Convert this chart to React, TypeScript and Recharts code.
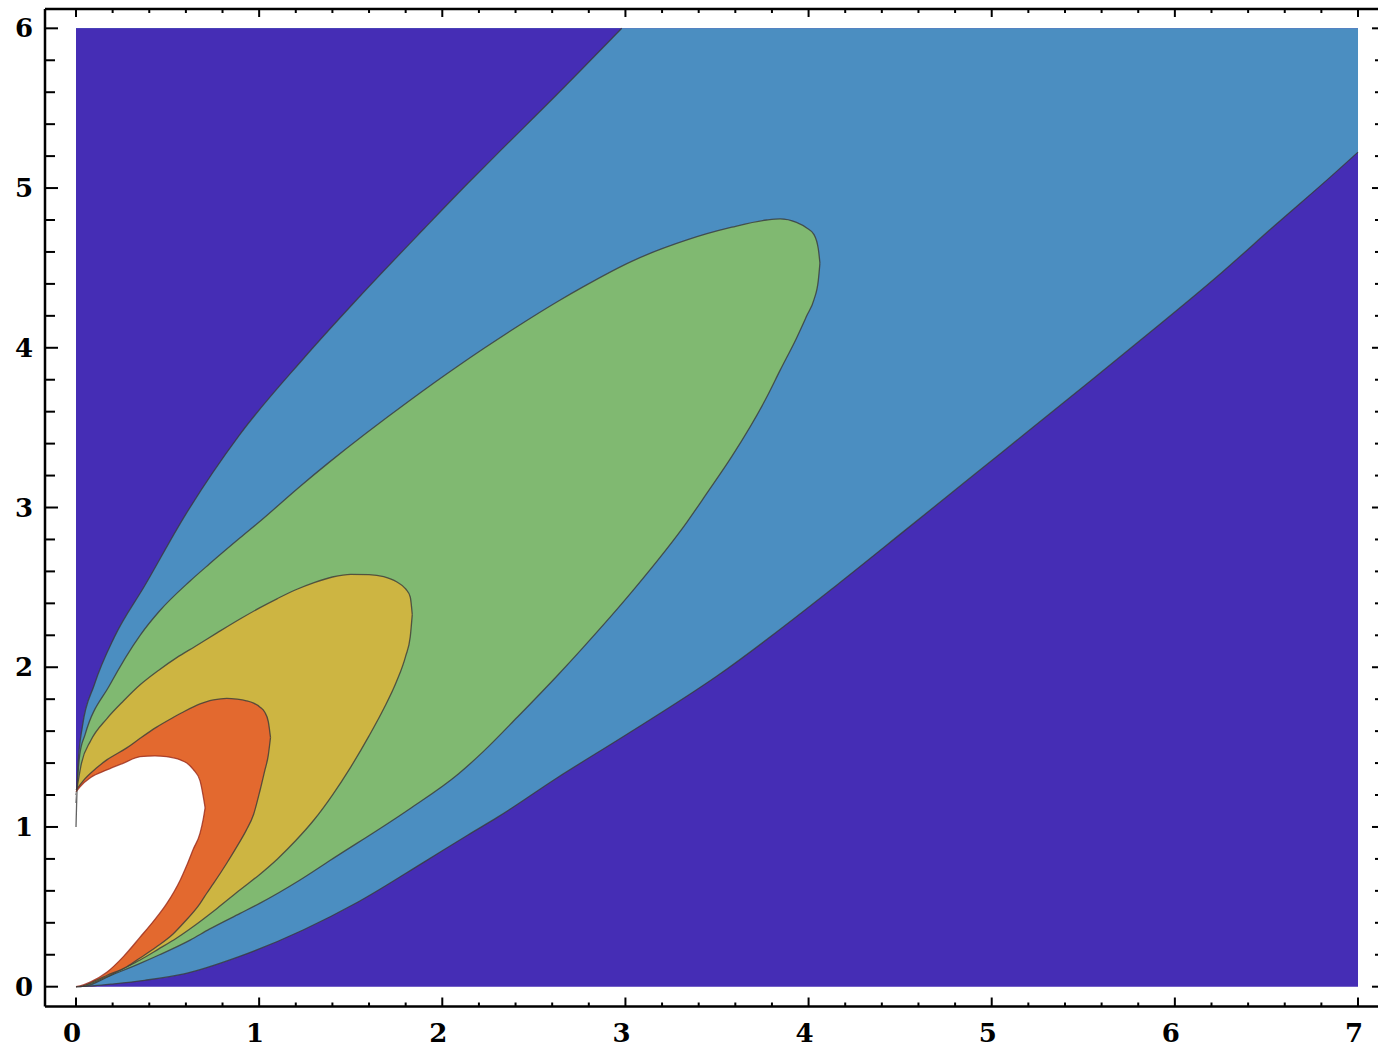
import { ComposedChart, Area, Line, XAxis, YAxis } from 'recharts';

// axis ticks (major = labelled, the rest are minor 0.2 steps)
const xTicks = [
  0, 0.2, 0.4, 0.6, 0.8, 1, 1.2, 1.4, 1.6, 1.8, 2, 2.2, 2.4, 2.6, 2.8, 3, 3.2, 3.4,
  3.6, 3.8, 4, 4.2, 4.4, 4.6, 4.8, 5, 5.2, 5.4, 5.6, 5.8, 6, 6.2, 6.4, 6.6, 6.8, 7,
];
const yTicks = [
  0, 0.2, 0.4, 0.6, 0.8, 1, 1.2, 1.4, 1.6, 1.8, 2, 2.2, 2.4, 2.6, 2.8, 3, 3.2, 3.4,
  3.6, 3.8, 4, 4.2, 4.4, 4.6, 4.8, 5, 5.2, 5.4, 5.6, 5.8, 6,
];
const xDomain = [-0.1693, 7.1474];
const yDomain = [-0.124, 6.121];
const TOP = 6;

// background level (whole plot range)
const bgX = [0, 7];
const bgLow = [0, 0];
const bgHigh = [6, 6];

// light blue band: lower (right) edge, and upper (left) edge until it leaves the plot at y = 6
const blueLowX = [0, 0.01, 0.035, 0.1, 0.21, 0.375, 0.59, 0.89, 1.24, 1.54, 1.9, 2.14, 2.3, 2.63, 2.98, 3.5, 4.16, 4.53, 5.05, 5.51, 5.89, 6.22, 6.55, 6.85, 7.0];
const blueLow = [0, 0, 0.002, 0.006, 0.018, 0.04, 0.08, 0.188, 0.355, 0.53, 0.78, 0.95, 1.06, 1.31, 1.56, 1.945, 2.52, 2.86, 3.34, 3.765, 4.12, 4.435, 4.77, 5.07, 5.225];
const blueUpX = [0, 0.01, 0.035, 0.1, 0.21, 0.375, 0.59, 0.89, 1.24, 1.54, 1.9, 2.14, 2.3, 2.63, 2.98];
const blueUp = [1.0, 1.37, 1.63, 1.89, 2.19, 2.51, 2.94, 3.45, 3.93, 4.31, 4.745, 5.03, 5.214, 5.59, 6.0];

// green level
const greenX = [0, 0.02, 0.05, 0.185, 0.35, 0.456, 0.623, 0.728, 0.896, 1.0, 1.223, 1.38, 1.815, 2.086, 2.222, 2.412, 2.63, 2.766, 3.037, 3.336, 3.445, 3.581, 3.771, 3.845, 3.934, 3.99, 4.029, 4.053, 4.062];
const greenLow = [0, 0, 0.003, 0.068, 0.146, 0.2, 0.292, 0.36, 0.459, 0.52, 0.668, 0.785, 1.108, 1.33, 1.47, 1.69, 1.95, 2.12, 2.475, 2.909, 3.09, 3.32, 3.69, 3.86, 4.06, 4.2, 4.3, 4.42, 4.53];
const greenHigh = [1.15, 1.45, 1.58, 1.89, 2.2, 2.352, 2.54, 2.646, 2.81, 2.909, 3.132, 3.281, 3.664, 3.886, 3.992, 4.135, 4.29, 4.38, 4.543, 4.675, 4.714, 4.755, 4.8, 4.807, 4.785, 4.75, 4.71, 4.62, 4.53];

// yellow level
const yellowX = [0, 0.03, 0.08, 0.17, 0.26, 0.35, 0.45, 0.55, 0.65, 0.77, 0.9, 1.0, 1.1, 1.2, 1.3, 1.4, 1.5, 1.6, 1.68, 1.75, 1.8, 1.825, 1.836];
const yellowLow = [0, 0.004, 0.02, 0.063, 0.115, 0.167, 0.235, 0.305, 0.385, 0.49, 0.61, 0.7, 0.8, 0.915, 1.045, 1.2, 1.375, 1.57, 1.74, 1.91, 2.07, 2.19, 2.33];
const yellowHigh = [1.2, 1.4, 1.54, 1.68, 1.79, 1.89, 1.98, 2.06, 2.13, 2.215, 2.305, 2.37, 2.43, 2.485, 2.53, 2.565, 2.582, 2.58, 2.567, 2.535, 2.49, 2.44, 2.33];

// orange level
const orangeX = [0, 0.04, 0.113, 0.168, 0.277, 0.35, 0.44, 0.53, 0.586, 0.677, 0.714, 0.75, 0.823, 0.88, 0.93, 0.97, 1.005, 1.03, 1.05, 1.062];
const orangeLow = [0, 0.01, 0.042, 0.07, 0.125, 0.18, 0.25, 0.33, 0.397, 0.52, 0.585, 0.645, 0.773, 0.88, 0.98, 1.08, 1.23, 1.35, 1.45, 1.56];
const orangeHigh = [1.23, 1.29, 1.37, 1.42, 1.495, 1.555, 1.625, 1.685, 1.72, 1.77, 1.785, 1.795, 1.805, 1.8, 1.79, 1.775, 1.75, 1.72, 1.66, 1.56];

// white (undefined) region near the origin
const whiteX = [0, 0.022, 0.08, 0.168, 0.26, 0.35, 0.43, 0.495, 0.57, 0.605, 0.64, 0.677, 0.695, 0.705];
const whiteLow = [0, 0.005, 0.03, 0.09, 0.19, 0.31, 0.42, 0.52, 0.67, 0.76, 0.86, 0.96, 1.05, 1.12];
const whiteHigh = [1.22, 1.252, 1.31, 1.357, 1.4, 1.44, 1.445, 1.44, 1.42, 1.4, 1.36, 1.29, 1.19, 1.12];

const band = (xs: number[], lo: number[], hi: number[]) =>
  xs.map((x, i) => ({ x, range: [lo[i], hi[i]] }));
const toTop = (xs: number[], lo: number[]) => xs.map((x, i) => ({ x, range: [lo[i], TOP] }));
const curve = (xs: number[], ys: number[]) => xs.map((x, i) => ({ x, y: ys[i] }));

const COLORS = {
  bg: '#452db5',
  blue: '#4b8ec1',
  green: '#80b971',
  yellow: '#cdb542',
  orange: '#e3692f',
};
const LINE = '#3a3a3a';
const FONT = '"DejaVu Serif", serif';

const isMajor = (v: number) => Math.abs(v - Math.round(v)) < 1e-6;

const BottomTick = (props: any) => {
  const { x, y, payload } = props;
  const major = isMajor(payload.value);
  return (
    <g>
      <line x1={x} x2={x} y1={y} y2={y - (major ? 9 : 4)} stroke="#000" strokeWidth={2} />
      {major && (
        <text x={x - 4} y={y + 35} textAnchor="middle" fontFamily={FONT} fontWeight="bold" fontSize={26} fill="#000">
          {Math.round(payload.value)}
        </text>
      )}
    </g>
  );
};

const TopTick = (props: any) => {
  const { x, y, payload } = props;
  const major = isMajor(payload.value);
  return <line x1={x} x2={x} y1={y} y2={y + (major ? 8 : 4)} stroke="#000" strokeWidth={2} />;
};

const LeftTick = (props: any) => {
  const { x, y, payload } = props;
  const major = isMajor(payload.value);
  return (
    <g>
      <line x1={x} x2={x + (major ? 13 : 10)} y1={y} y2={y} stroke="#000" strokeWidth={2} />
      {major && (
        <text x={x - 12} y={y + 9} textAnchor="end" fontFamily={FONT} fontWeight="bold" fontSize={26} fill="#000">
          {Math.round(payload.value)}
        </text>
      )}
    </g>
  );
};

const RightTick = (props: any) => {
  const { x, y, payload } = props;
  const major = isMajor(payload.value);
  return <line x1={x} x2={x - (major ? 13 : 10)} y1={y} y2={y} stroke="#000" strokeWidth={2} />;
};

export default function App() {
  const axisLine = { stroke: '#000', strokeWidth: 2.5 };
  const fillArea = (key: string, data: any[], fill: string, stroke = 'none') => (
    <Area
      key={key}
      xAxisId="b"
      yAxisId="l"
      data={data}
      dataKey="range"
      type={key === 'bg' ? 'linear' : 'monotone'}
      fill={fill}
      fillOpacity={1}
      stroke={stroke}
      strokeWidth={1.3}
      strokeOpacity={0.8}
      dot={false}
      activeDot={false}
      isAnimationActive={false}
    />
  );
  const edge = (key: string, data: any[]) => (
    <Line
      key={key}
      xAxisId="b"
      yAxisId="l"
      data={data}
      dataKey="y"
      type="monotone"
      stroke={LINE}
      strokeWidth={1.3}
      strokeOpacity={0.8}
      dot={false}
      activeDot={false}
      isAnimationActive={false}
    />
  );

  return (
    <div style={{ position: 'fixed', left: 0, top: 0, width: 1378, height: 1048, overflow: 'hidden', background: '#fff' }}>
      <ComposedChart width={1400} height={1048} margin={{ top: 4, right: 5, bottom: 1.5, left: 5 }}>
        <XAxis
          xAxisId="b"
          type="number"
          dataKey="x"
          orientation="bottom"
          domain={xDomain}
          allowDataOverflow
          ticks={xTicks}
          interval={0}
          height={40}
          tickSize={0}
          tickMargin={0}
          tickLine={false}
          axisLine={axisLine}
          tick={BottomTick}
        />
        <XAxis
          xAxisId="t"
          type="number"
          dataKey="x"
          orientation="top"
          domain={xDomain}
          allowDataOverflow
          ticks={xTicks}
          interval={0}
          height={5}
          tickSize={0}
          tickMargin={0}
          tickLine={false}
          axisLine={axisLine}
          tick={TopTick}
        />
        <YAxis
          yAxisId="l"
          type="number"
          orientation="left"
          domain={yDomain}
          allowDataOverflow
          ticks={yTicks}
          interval={0}
          width={40}
          tickSize={0}
          tickMargin={0}
          tickLine={false}
          axisLine={axisLine}
          tick={LeftTick}
        />
        <YAxis
          yAxisId="r"
          type="number"
          orientation="right"
          domain={yDomain}
          allowDataOverflow
          ticks={yTicks}
          interval={0}
          width={10}
          tickSize={0}
          tickMargin={0}
          tickLine={false}
          axisLine={axisLine}
          tick={RightTick}
        />
        {fillArea('bg', band(bgX, bgLow, bgHigh), COLORS.bg)}
        {fillArea('blue', toTop(blueLowX, blueLow), COLORS.blue)}
        {fillArea('blueCap', toTop(blueUpX, blueUp), COLORS.bg)}
        {edge('blueUpEdge', curve(blueUpX, blueUp))}
        {edge('blueLowEdge', curve(blueLowX, blueLow))}
        {fillArea('green', band(greenX, greenLow, greenHigh), COLORS.green, LINE)}
        {fillArea('yellow', band(yellowX, yellowLow, yellowHigh), COLORS.yellow, LINE)}
        {fillArea('orange', band(orangeX, orangeLow, orangeHigh), COLORS.orange, LINE)}
        {fillArea('white', band(whiteX, whiteLow, whiteHigh), '#ffffff', '#9a2a1a')}
      </ComposedChart>
    </div>
  );
}
